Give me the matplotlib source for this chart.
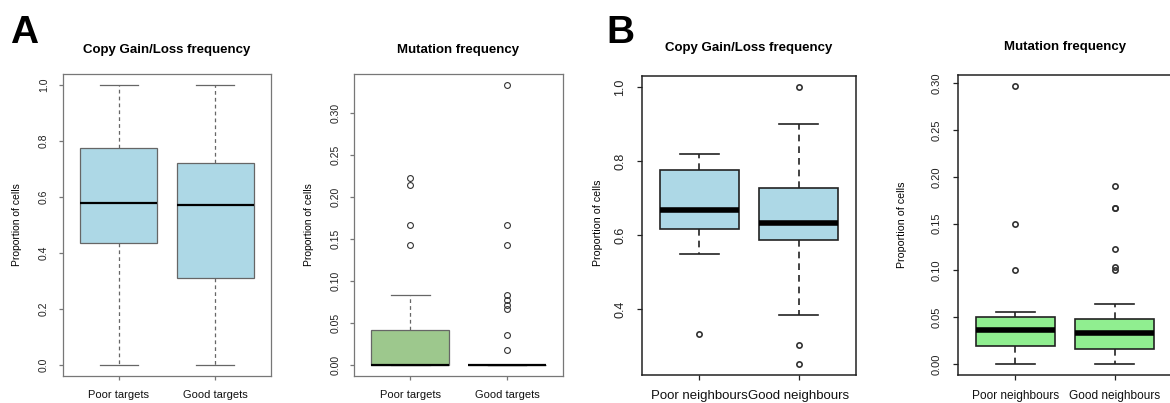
import numpy as np
import matplotlib
matplotlib.use("Agg")
import matplotlib.pyplot as plt

plt.rcParams["font.family"] = ["Liberation Sans", "DejaVu Sans"]

# panel A: targets
a_labels = ["Poor targets", "Good targets"]
a_cn_stats = [
    # whislo, q1, med, q3, whishi
    [0.0, 0.435, 0.580, 0.775, 1.0],
    [0.0, 0.310, 0.573, 0.722, 1.0],
]
a_cn_fliers = [[], []]
a_mut_stats = [
    [0.0, 0.0, 0.0, 0.042, 0.083],
    [0.0, 0.0, 0.0, 0.0, 0.0],
]
a_mut_fliers = [
    [0.143, 0.167, 0.214, 0.222],
    [0.018, 0.036, 0.067, 0.071, 0.077, 0.083, 0.143, 0.167, 0.333],
]

# panel B: neighbours
b_labels = ["Poor neighbours", "Good neighbours"]
b_cn_stats = [
    [0.550, 0.616, 0.667, 0.777, 0.820],
    [0.385, 0.588, 0.634, 0.728, 0.900],
]
b_cn_fliers = [[0.333], [0.252, 0.303, 1.0]]
b_mut_stats = [
    [0.0, 0.019, 0.036, 0.050, 0.055],
    [0.0, 0.016, 0.033, 0.048, 0.064],
]
b_mut_fliers = [
    [0.100, 0.150, 0.297],
    [0.100, 0.104, 0.123, 0.167, 0.167, 0.190],
]

cn_ticks_a = [0.0, 0.2, 0.4, 0.6, 0.8, 1.0]
mut_ticks = [0.0, 0.05, 0.10, 0.15, 0.20, 0.25, 0.30]
cn_ticks_b = [0.4, 0.6, 0.8, 1.0]

fig = plt.figure(figsize=(11.7, 4.03), dpi=100)


def make_stats(stats, fliers, labels):
    out = []
    for s, f, lab in zip(stats, fliers, labels):
        out.append(dict(whislo=s[0], q1=s[1], med=s[2], q3=s[3], whishi=s[4],
                        fliers=f, label=lab))
    return out


def panel(rect, stats, fliers, labels, title, ticks, fmt, face, style, fs_x, fs_tick):
    ax = fig.add_axes(rect)
    if style == "A":
        edge, lw, mlw, dash, frame = "#666666", 0.9, 1.6, (0, (3, 2.5)), "#777777"
        fs_t, fs_y, tl, ypad, tpad = 9.5, 7.5, 3, 7, 15
    else:
        edge, lw, mlw, dash, frame = "#222222", 1.2, 4.0, (0, (4, 3)), "#222222"
        fs_t, fs_y, tl, ypad, tpad = 9.5, 7.7, 3.5, 8, 18
    ax.bxp(make_stats(stats, fliers, labels), positions=[1, 2], widths=0.8,
           capwidths=0.4, patch_artist=True,
           boxprops=dict(facecolor=face, edgecolor=edge, linewidth=lw),
           medianprops=dict(color="black", linewidth=mlw, solid_capstyle="butt"),
           whiskerprops=dict(color=edge, linewidth=lw, linestyle=dash),
           capprops=dict(color=edge, linewidth=lw),
           flierprops=dict(marker="o", markerfacecolor="none", markeredgecolor="#333333",
                           markersize=4.2 if style == "A" else 3.8,
                           markeredgewidth=0.8 if style == "A" else 1.2))
    allv = [v for s in stats for v in s] + [v for f in fliers for v in f]
    lo, hi = min(allv), max(allv)
    pad = 0.04 * (hi - lo)
    ax.set_ylim(lo - pad, hi + pad)
    ax.set_xlim(0.42, 2.58)
    ax.set_yticks(ticks)
    ax.set_yticklabels([fmt % t for t in ticks], rotation=90, va="center",
                       fontsize=fs_tick, color="#222222")
    ax.set_xticks([1, 2])
    ax.set_xticklabels(labels, fontsize=fs_x, color="#111111")
    ax.tick_params(axis="both", length=tl, width=0.9, color=frame)
    ax.tick_params(axis="y", pad=ypad)
    ax.tick_params(axis="x", pad=7)
    for sp in ax.spines.values():
        sp.set_color(frame)
        sp.set_linewidth(0.9 if style == "A" else 1.1)
    ax.set_title(title, fontsize=fs_t, fontweight="bold", pad=tpad)
    ax.set_ylabel("Proportion of cells", fontsize=fs_y)
    return ax


ax1 = panel([0.0538, 0.067, 0.1778, 0.7494], a_cn_stats, a_cn_fliers, a_labels,
            "Copy Gain/Loss frequency", cn_ticks_a, "%.1f", "#ADD8E6", "A", 8, 7.5)
ax1.yaxis.set_label_coords(-0.197, 0.5)

ax2 = panel([0.3026, 0.067, 0.1786, 0.7494], a_mut_stats, a_mut_fliers, a_labels,
            "Mutation frequency", mut_ticks, "%.2f", "#9DC88D", "A", 8, 7.5)
ax2.yaxis.set_label_coords(-0.191, 0.5)

ax3 = panel([0.5487, 0.0695, 0.1829, 0.7419], b_cn_stats, b_cn_fliers, b_labels,
            "Copy Gain/Loss frequency", cn_ticks_b, "%.1f", "#ADD8E6", "B", 9.5, 9)
ax3.yaxis.set_label_coords(-0.182, 0.51)

ax4 = panel([0.8188, 0.0695, 0.1829, 0.7444], b_mut_stats, b_mut_fliers, b_labels,
            "Mutation frequency", mut_ticks, "%.2f", "#90EE90", "B", 8.6, 8)
ax4.yaxis.set_label_coords(-0.238, 0.5)

fig.text(10 / 1170, 1 - 43 / 403, "A", fontsize=28, fontweight="bold", ha="left", va="baseline")
fig.text(606 / 1170, 1 - 43 / 403, "B", fontsize=28, fontweight="bold", ha="left", va="baseline")

fig.savefig("out.png", dpi=100)
